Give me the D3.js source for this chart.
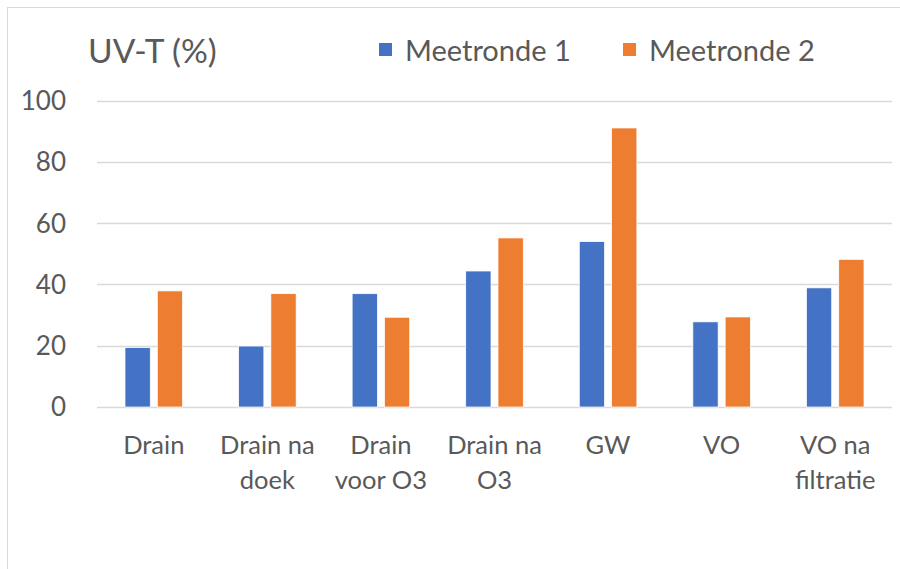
<!DOCTYPE html>
<html>
<head>
<meta charset="utf-8">
<script src="https://cdn.jsdelivr.net/npm/d3@7"></script>
<style>
  html, body { margin: 0; padding: 0; background: #fff; }
  svg { display: block; }
  text { font-family: "Lato", "Liberation Sans", sans-serif; fill: #595959; }
</style>
</head>
<body>
<svg id="chart" width="900" height="569"></svg>
<script>
const categories = [["Drain"], ["Drain na", "doek"], ["Drain", "voor O3"], ["Drain na", "O3"], ["GW"], ["VO"], ["VO na", "filtratie"]];
const seriesNames = ["Meetronde 1", "Meetronde 2"];
const meetronde1 = [19.4, 19.9, 37.0, 44.4, 54.0, 27.8, 38.9];
const meetronde2 = [37.9, 37.0, 29.3, 55.2, 91.1, 29.4, 48.2];
const yTicks = [0, 20, 40, 60, 80, 100];
const colors = ["#4472C4", "#ED7D31"];
const yTitle = "UV-T (%)";

const svg = d3.select("#chart");

// chart border (only top/left visible)
svg.append("rect").attr("x", 7.5).attr("y", 7.5).attr("width", 1000).attr("height", 1000)
  .attr("fill", "none").attr("stroke", "#d9d9d9").attr("stroke-width", 1);

const plotL = 97, plotR = 892, plotT = 100.7, plotB = 407;
const keys = categories.map((c, i) => i);
const x = d3.scaleBand().domain(keys).range([plotL, plotR]).paddingInner(0).paddingOuter(0);
const x1 = d3.scaleBand().domain([0, 1]).range([x.bandwidth() / 2 - 28.8, x.bandwidth() / 2 + 28.8]).paddingInner(0.2167).paddingOuter(0);
const y = d3.scaleLinear().domain([0, 100]).range([plotB, plotT]);

// gridlines
svg.append("g").selectAll("line").data(yTicks).join("line")
  .attr("x1", plotL).attr("x2", plotR)
  .attr("y1", d => Math.round(y(d)) + 0.5).attr("y2", d => Math.round(y(d)) + 0.5)
  .attr("stroke", "#d9d9d9").attr("stroke-width", 1.5);

// y tick labels
svg.append("g").selectAll("text").data(yTicks).join("text")
  .attr("x", 66).attr("y", d => y(d)).attr("dy", "0.36em")
  .attr("text-anchor", "end").attr("font-size", 26).text(d => d);

// bars
const series = [meetronde1, meetronde2];
const g = svg.append("g");
series.forEach((vals, si) => {
  g.selectAll(".s" + si).data(vals).join("rect")
    .attr("class", "s" + si)
    .attr("x", (d, i) => x(i) + x1(si))
    .attr("width", x1.bandwidth())
    .attr("y", d => y(d))
    .attr("height", d => y(0) - y(d))
    .attr("fill", colors[si])
    .attr("stroke", "#fff").attr("stroke-width", 0.75);
});

// x labels
const xl = svg.append("g");
categories.forEach((lines, i) => {
  const cx = x(i) + x.bandwidth() / 2;
  const t = xl.append("text").attr("text-anchor", "middle").attr("font-size", 25.5)
    .attr("x", cx).attr("y", 454);
  lines.forEach((ln, j) => {
    t.append("tspan").attr("x", cx).attr("dy", j === 0 ? 0 : 35).text(ln);
  });
});

// y title
svg.append("text").attr("x", 88).attr("y", 63).attr("font-size", 33.5).text(yTitle);

// legend
const legX = [379, 623];
seriesNames.forEach((n, i) => {
  svg.append("rect").attr("x", legX[i]).attr("y", 43).attr("width", 13).attr("height", 13).attr("fill", colors[i]);
  svg.append("text").attr("x", legX[i] + 26).attr("y", 61).attr("font-size", 29).text(n);
});
</script>
</body>
</html>
